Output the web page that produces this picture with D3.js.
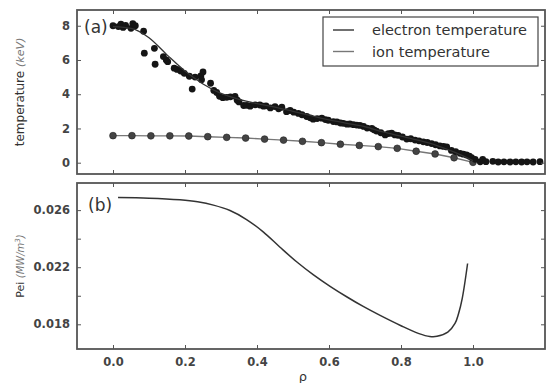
<!DOCTYPE html>
<html>
<head>
<meta charset="utf-8">
<script src="https://cdn.jsdelivr.net/npm/d3@7"></script>
<style>
  body { margin: 0; background: #fff; }
  svg text { font-family: "DejaVu Sans", sans-serif; }
</style>
</head>
<body>
<div id="chart"></div>
<script>
// measured electron temperature (scatter)
const teRho = [0.000,0.015,0.022,0.028,0.035,0.050,0.055,0.062,0.085,0.087,0.115,0.117,0.140,0.148,0.152,0.170,0.178,0.188,0.198,0.212,0.220,0.228,0.244,0.246,0.250,0.271,0.280,0.288,0.296,0.305,0.316,0.326,0.339,0.345,0.350,0.363,0.372,0.381,0.395,0.408,0.418,0.425,0.437,0.450,0.460,0.469,0.482,0.492,0.502,0.515,0.525,0.538,0.548,0.556,0.567,0.580,0.590,0.598,0.612,0.622,0.632,0.640,0.650,0.658,0.668,0.677,0.686,0.696,0.706,0.719,0.725,0.732,0.744,0.756,0.765,0.774,0.783,0.792,0.804,0.816,0.827,0.839,0.850,0.862,0.873,0.885,0.896,0.908,0.918,0.927,0.940,0.952,0.964,0.973,0.982,0.990,0.996,1.006,1.020,1.027,1.036,1.055,1.070,1.086,1.103,1.119,1.135,1.150,1.167,1.186];
const teVals = [8.00,7.95,8.10,7.90,8.02,7.85,8.12,8.00,7.68,6.40,6.68,5.75,6.20,6.00,5.90,5.52,5.45,5.35,5.22,5.05,4.30,5.00,5.07,4.84,5.30,4.64,4.22,4.10,3.88,3.80,3.82,3.85,3.88,3.65,3.55,3.34,3.35,3.30,3.38,3.37,3.30,3.32,3.20,3.28,3.15,3.24,2.98,3.05,2.95,2.88,2.80,2.70,2.62,2.54,2.58,2.60,2.52,2.48,2.40,2.38,2.32,2.30,2.25,2.26,2.22,2.20,2.18,2.12,2.02,2.00,1.92,1.85,1.75,1.62,1.70,1.72,1.62,1.60,1.50,1.38,1.40,1.32,1.28,1.22,1.18,1.12,1.05,0.98,0.95,0.92,0.72,0.65,0.55,0.50,0.45,0.38,0.30,0.20,0.05,0.20,0.06,0.08,0.04,0.05,0.04,0.05,0.04,0.05,0.04,0.06];

// electron temperature fit
const fitRho = [0,0.05,0.1,0.15,0.2,0.25,0.3,0.35,0.4,0.45,0.5,0.55,0.6,0.65,0.7,0.75,0.8,0.85,0.9,0.95,1.0];
const fitTe = [7.95,7.85,7.3,6.3,5.35,4.6,4.05,3.7,3.45,3.25,3.0,2.75,2.5,2.3,2.1,1.8,1.55,1.3,1.0,0.6,0.12];

// ion temperature
const tiRho = d3.range(20).map(k => k / 19);
const tiVals = [1.58,1.58,1.57,1.57,1.56,1.52,1.48,1.44,1.38,1.32,1.25,1.17,1.08,1.01,0.94,0.84,0.67,0.51,0.29,0.02];

// electron-ion exchange power
const peiRho = [0.014,0.1,0.186,0.235,0.279,0.325,0.371,0.418,0.464,0.51,0.556,0.603,0.649,0.695,0.742,0.8,0.85,0.88,0.9,0.93,0.95,0.96,0.97,0.985];
const peiVals = [0.02688,0.02684,0.02672,0.02658,0.02635,0.02597,0.02534,0.02446,0.0234,0.02238,0.02148,0.02066,0.01993,0.01925,0.01862,0.0179,0.01735,0.01715,0.01716,0.01745,0.01806,0.01876,0.0198,0.02226];

const xTicks = [0, 0.2, 0.4, 0.6, 0.8, 1.0];
const teTicks = [0, 2, 4, 6, 8];
const peiTicks = [0.018, 0.020, 0.022, 0.024, 0.026];
const peiLabels = [0.018, 0.022, 0.026];

const W = 549, H = 383;
const left = 77, right = 545;
const topA = { y0: 10, y1: 174 };
const topB = { y0: 183, y1: 349 };

const svg = d3.select('#chart').append('svg')
  .attr('width', W).attr('height', H);

const x = d3.scaleLinear().domain([-0.1, 1.2]).range([left, right]);
const yA = d3.scaleLinear().domain([-0.66, 8.92]).range([topA.y1, topA.y0]);
const yB = d3.scaleLinear().domain([0.01627, 0.0279]).range([topB.y1, topB.y0]);

const axisCol = '#555';
const tickLen = 4;

function panelFrame(p, y, yTicks, yLabels, fmt, showX) {
  const g = svg.append('g');
  // inward ticks on all four sides
  g.append('g').attr('transform', 'translate(0,' + p.y1 + ')')
    .call(d3.axisBottom(x).tickValues(xTicks).tickSizeInner(-tickLen).tickSizeOuter(0)
      .tickFormat(showX ? d3.format('.1f') : ''))
    .call(a => a.select('.domain').remove())
    .call(a => a.selectAll('text').attr('dy', '1.25em'));
  g.append('g').attr('transform', 'translate(0,' + p.y0 + ')')
    .call(d3.axisTop(x).tickValues(xTicks).tickSizeInner(-tickLen).tickSizeOuter(0).tickFormat(''))
    .call(a => a.select('.domain').remove());
  g.append('g').attr('transform', 'translate(' + left + ',0)')
    .call(d3.axisLeft(y).tickValues(yTicks).tickSizeInner(-tickLen).tickSizeOuter(0)
      .tickFormat(d => yLabels.some(v => Math.abs(v - d) < 1e-9) ? fmt(d) : ''))
    .call(a => a.select('.domain').remove())
    .call(a => a.selectAll('text').attr('x', -7));
  g.append('g').attr('transform', 'translate(' + right + ',0)')
    .call(d3.axisRight(y).tickValues(yTicks).tickSizeInner(-tickLen).tickSizeOuter(0).tickFormat(''))
    .call(a => a.select('.domain').remove());
  g.selectAll('.tick line').attr('stroke', axisCol).attr('stroke-width', 1);
  g.selectAll('.tick text').attr('fill', '#444').attr('font-size', 11.5)
    .attr('font-weight', 'bold').attr('font-family', '"DejaVu Sans", sans-serif');
  svg.append('rect').attr('x', left).attr('y', p.y0)
    .attr('width', right - left).attr('height', p.y1 - p.y0)
    .attr('fill', 'none').attr('stroke', axisCol).attr('stroke-width', 1.8);
}

// ---- panel (a)
svg.append('clipPath').attr('id', 'clipA').append('rect')
  .attr('x', left).attr('y', topA.y0).attr('width', right - left).attr('height', topA.y1 - topA.y0);

const gA = svg.append('g').attr('clip-path', 'url(#clipA)');

gA.append('path')
  .datum(tiRho.map((r, i) => [r, tiVals[i]]))
  .attr('fill', 'none').attr('stroke', '#777').attr('stroke-width', 1.4)
  .attr('d', d3.line().x(d => x(d[0])).y(d => yA(d[1])));

gA.selectAll('.ti').data(tiRho.map((r, i) => [r, tiVals[i]]))
  .enter().append('circle').attr('class', 'ti')
  .attr('cx', d => x(d[0])).attr('cy', d => yA(d[1])).attr('r', 3.4)
  .attr('fill', '#444').attr('stroke', '#222').attr('stroke-width', 0.6);

gA.selectAll('.te').data(teRho.map((r, i) => [r, teVals[i]]))
  .enter().append('circle').attr('class', 'te')
  .attr('cx', d => x(d[0])).attr('cy', d => yA(d[1])).attr('r', 3.4)
  .attr('fill', '#151515');

gA.append('path')
  .datum(fitRho.map((r, i) => [r, fitTe[i]]))
  .attr('fill', 'none').attr('stroke', '#333').attr('stroke-width', 1.3)
  .attr('d', d3.line().curve(d3.curveMonotoneX).x(d => x(d[0])).y(d => yA(d[1])));

panelFrame(topA, yA, teTicks, teTicks, d3.format('d'), false);

svg.append('text').attr('x', 84).attr('y', 33).attr('font-size', 17).attr('fill', '#333').text('(a)');

// legend
const lg = svg.append('g');
lg.append('rect').attr('x', 323).attr('y', 17).attr('width', 215).attr('height', 49)
  .attr('fill', '#fff').attr('stroke', '#444').attr('stroke-width', 1.2);
const legItems = [['electron temperature', '#333'], ['ion temperature', '#777']];
legItems.forEach((it, i) => {
  const yy = 30 + i * 21.5;
  lg.append('line').attr('x1', 333).attr('x2', 354).attr('y1', yy).attr('y2', yy)
    .attr('stroke', it[1]).attr('stroke-width', 1.4);
  lg.append('text').attr('x', 372).attr('y', yy + 5).attr('font-size', 14.5)
    .attr('fill', '#333').text(it[0]);
});

// y label (a)
const la = svg.append('text').attr('transform', 'translate(24,' + 92 + ') rotate(-90)')
  .attr('text-anchor', 'middle').attr('font-size', 12).attr('fill', '#333');
la.append('tspan').text('temperature ');
la.append('tspan').attr('font-style', 'italic').attr('fill', '#777').attr('font-size', 11).text('(keV)');

// ---- panel (b)
svg.append('clipPath').attr('id', 'clipB').append('rect')
  .attr('x', left).attr('y', topB.y0).attr('width', right - left).attr('height', topB.y1 - topB.y0);

svg.append('g').attr('clip-path', 'url(#clipB)').append('path')
  .datum(peiRho.map((r, i) => [r, peiVals[i]]))
  .attr('fill', 'none').attr('stroke', '#333').attr('stroke-width', 1.5)
  .attr('d', d3.line().curve(d3.curveCatmullRom.alpha(0.5)).x(d => x(d[0])).y(d => yB(d[1])));

panelFrame(topB, yB, peiTicks, peiLabels, d3.format('.3f'), true);

svg.append('text').attr('x', 88).attr('y', 211).attr('font-size', 17).attr('fill', '#333').text('(b)');

const lb = svg.append('text').attr('transform', 'translate(24,' + 266 + ') rotate(-90)')
  .attr('text-anchor', 'middle').attr('font-size', 11).attr('fill', '#333');
lb.append('tspan').text('Pei ');
lb.append('tspan').attr('font-style', 'italic').attr('fill', '#777').attr('font-size', 10).text('(MW/m');
lb.append('tspan').attr('font-style', 'italic').attr('fill', '#777').attr('font-size', 7).attr('dy', -4).text('3');
lb.append('tspan').attr('font-style', 'italic').attr('fill', '#777').attr('font-size', 10).attr('dy', 4).text(')');

svg.append('text').attr('x', 303).attr('y', 381).attr('text-anchor', 'middle')
  .attr('font-size', 13).attr('fill', '#333').text('ρ');
</script>
</body>
</html>
